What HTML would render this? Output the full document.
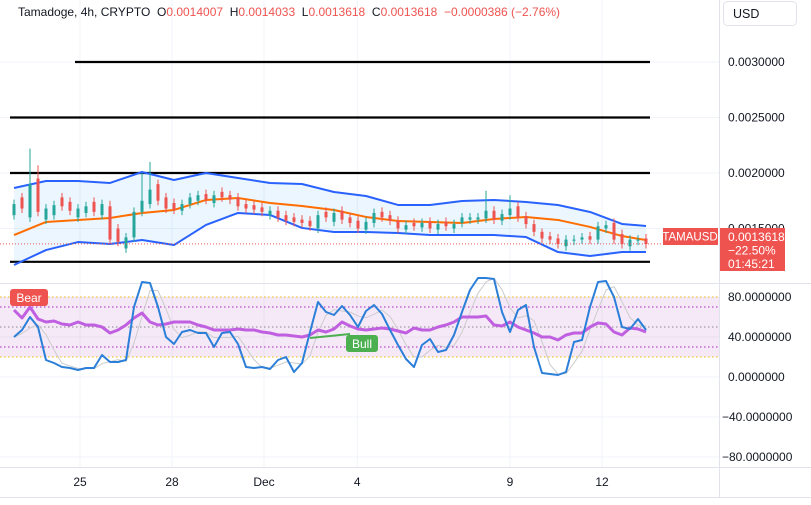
<!DOCTYPE html>
<html><head><meta charset="utf-8"><style>
body{margin:0;background:#fff;font-family:"Liberation Sans",sans-serif}
svg text{font-family:"Liberation Sans",sans-serif}
</style></head><body>
<svg id="c" width="811" height="500" xmlns="http://www.w3.org/2000/svg"></svg>
<script>
const dateLabels=["25","28","Dec","4","9","12"];
const dateIdx=[8.25,19.75,31.25,42.9,62,73.5];
const priceTicks=[0.003,0.0025,0.002,0.0015];
const levels=[0.003,0.0025,0.002,0.0012];
const oscTicks=[80,40,0,-40,-80];
const closes=[0.00172,0.00168,0.00190,0.00165,0.00168,0.00171,0.00170,0.00166,0.00168,0.00170,0.00165,0.00172,0.00140,0.00138,0.00142,0.00165,0.00175,0.00185,0.00175,0.00168,0.00167,0.00172,0.00178,0.00180,0.00176,0.00180,0.00178,0.00176,0.00170,0.00168,0.00167,0.00165,0.00166,0.00160,0.00157,0.00156,0.00155,0.00152,0.00162,0.00160,0.00164,0.00158,0.00155,0.00150,0.00156,0.00164,0.00160,0.00157,0.00150,0.00153,0.00152,0.00155,0.00150,0.00154,0.00152,0.00154,0.00160,0.00160,0.00160,0.00166,0.00158,0.00163,0.00168,0.00160,0.00154,0.00147,0.00141,0.00140,0.00136,0.00140,0.00140,0.00142,0.00140,0.00152,0.00153,0.00140,0.00136,0.00140,0.00140,0.00136];
const opens=[0.00162,0.00178,0.00160,0.00195,0.00158,0.00162,0.00178,0.00174,0.00160,0.00164,0.00174,0.00162,0.00170,0.00150,0.00132,0.00142,0.00165,0.00172,0.00190,0.00178,0.00173,0.00166,0.00172,0.00175,0.00181,0.00173,0.00183,0.00180,0.00178,0.00172,0.00171,0.00169,0.00162,0.00166,0.00162,0.00160,0.00158,0.00157,0.00150,0.00165,0.00156,0.00166,0.00160,0.00157,0.00149,0.00155,0.00165,0.00162,0.00157,0.00149,0.00155,0.00151,0.00156,0.00149,0.00156,0.00150,0.00155,0.00158,0.00158,0.00159,0.00166,0.00157,0.00162,0.00170,0.00161,0.00154,0.00147,0.00143,0.00141,0.00134,0.00139,0.00140,0.00143,0.00140,0.00150,0.00155,0.00145,0.00134,0.00139,0.00141];
const highSpikes={2:0.00222,3:0.00207,16:0.00200,17:0.00210,12:0.00175,59:0.00184,62:0.00180,66:0.00150};
const bandIdx=[0,4,8,12,16,20,24,28,32,36,40,44,48,52,56,60,64,68,72,76,79];
const upper=[0.001865,0.001928,0.001928,0.001910,0.002009,0.001937,0.002000,0.001955,0.001910,0.001901,0.001829,0.001793,0.001712,0.001712,0.001748,0.001757,0.001739,0.001712,0.001649,0.001541,0.001523];
const middle=[0.001441,0.001559,0.001577,0.001595,0.001640,0.001667,0.001757,0.001775,0.001730,0.001703,0.001667,0.001604,0.001568,0.001559,0.001550,0.001586,0.001604,0.001577,0.001514,0.001432,0.001396];
const lower=[0.001171,0.001306,0.001378,0.001360,0.001396,0.001351,0.001532,0.001640,0.001622,0.001505,0.001468,0.001468,0.001459,0.001441,0.001441,0.001441,0.001423,0.001288,0.001252,0.001288,0.001288];
const stochK=[40,47,60,50,17,14,10,9,7,9,9,22,15,15,17,70,95,94,70,40,33,45,47,44,44,30,44,45,33,10,9,10,8,17,20,5,14,45,75,65,62,71,62,50,66,72,63,47,32,18,10,32,38,25,27,42,65,87,99,99,98,65,45,67,72,30,4,3,2,5,35,37,70,95,96,80,50,48,58,47];
const rsi=[67,59,70,58,55,56,53,52,55,52,52,50,44,47,52,59,64,55,52,53,55,55,55,52,50,47,47,47,48,47,47,45,44,42,42,41,40,42,47,45,48,55,51,48,47,48,49,48,46,44,49,47,47,50,52,55,60,60,60,61,52,51,55,50,47,44,40,40,37,42,44,44,50,54,53,45,42,49,48,45];
const lastPrice=0.0013618;

const svg=document.getElementById('c');const NS='http://www.w3.org/2000/svg';
function el(t,a,p){const e=document.createElementNS(NS,t);for(const k in a)e.setAttribute(k,a[k]);(p||svg).appendChild(e);return e;}
const X=i=>14+8*i;
const Y=p=>62+(0.003-p)*111000;
const O=v=>377-v;
for(let i=0;i<dateIdx.length;i++){const g=el('line',{x1:X(dateIdx[i]),x2:X(dateIdx[i]),y1:0,y2:468,stroke:'#f0f3fa'});}
priceTicks.forEach(p=>{const g=el('line',{x1:0,x2:719,y1:Y(p),y2:Y(p),stroke:'#f0f3fa'});});
oscTicks.forEach(v=>{const g=el('line',{x1:0,x2:719,y1:O(v),y2:O(v),stroke:'#f0f3fa'});});
el('line',{x1:719.5,x2:719.5,y1:0,y2:497,stroke:'#e0e3eb'});
el('line',{x1:0,x2:811,y1:283.5,y2:283.5,stroke:'#e0e3eb'});
el('line',{x1:0,x2:811,y1:467.5,y2:467.5,stroke:'#e0e3eb'});
el('line',{x1:0,x2:811,y1:497.5,y2:497.5,stroke:'#e0e3eb'});
levels.forEach((p,k)=>{const l=el('line',{x1:k==0?75:10,x2:650,y1:Y(p),y2:Y(p),stroke:'#000','stroke-width':2.2});});
let up=bandIdx.map((b,i)=>X(b)+','+Y(upper[i])),lo=bandIdx.map((b,i)=>X(b)+','+Y(lower[i])).reverse();
const bf=el('polygon',{points:up.concat(lo).join(' '),fill:'rgba(33,150,243,0.09)'});
function poly(xs,ys,color,w,name){const p=el('polyline',{points:xs.map((x,i)=>x+','+ys[i]).join(' '),fill:'none',stroke:color,'stroke-width':w,'stroke-linejoin':'round'});return p;}
const bx=bandIdx.map(X);
poly(bx,upper.map(Y),'#2962ff',2,'bollinger-upper');
poly(bx,lower.map(Y),'#2962ff',2,'bollinger-lower');
poly(bx,middle.map(Y),'#ff6d00',2,'bollinger-basis');
closes.forEach((c,i)=>{const o=opens[i];const col=c>=o?'#26a69a':'#ef5350';
 const hi=highSpikes[i]||Math.max(o,c)+0.00004;const lw=Math.min(o,c)-0.00004;
 const g=el('g',{});
 el('line',{x1:X(i),x2:X(i),y1:Y(hi),y2:Y(lw),stroke:col,'stroke-width':1},g);
 const t=Y(Math.max(o,c)),b=Y(Math.min(o,c));el('rect',{x:X(i)-1.5,y:t,width:3,height:Math.max(1,b-t),fill:col},g);});
const lp=el('line',{x1:0,x2:719,y1:Y(lastPrice),y2:Y(lastPrice),stroke:'#ef5350','stroke-dasharray':'1 2'});
const band=el('rect',{x:0,y:O(80),width:719,height:O(20)-O(80),fill:'rgba(156,39,176,0.1)'});
[[80,'#f0c000'],[20,'#f0c000'],[70,'#b020c0'],[30,'#b020c0'],[50,'#888']].forEach(a=>{el('line',{x1:0,x2:719,y1:O(a[0]),y2:O(a[0]),stroke:a[1],'stroke-dasharray':'1.5 2.5'});});
const kx=stochK.map((v,i)=>X(i));
const d=stochK.map((v,i)=>{let s=0,n=0;for(let j=Math.max(0,i-2);j<=i;j++){s+=stochK[j];n++;}return s/n;});
poly(kx,d.map(O),'#ccc',1,'stoch-d');
poly(kx,rsi.map(O),'#c060e0',3,'rsi-line');
poly(kx,stochK.map(O),'#2c7fd8',2,'stoch-k');
const bear=el('g',{});
el('rect',{x:10,y:289,width:38,height:17,rx:3,fill:'#ef5350'},bear);const bt=el('text',{x:29,y:302,'font-size':12,fill:'#fff','text-anchor':'middle'},bear);bt.textContent='Bear';
el('line',{x1:310,y1:338,x2:350,y2:334,stroke:'#4caf50','stroke-width':2});
const bull=el('g',{});
el('rect',{x:346,y:335,width:32,height:17,rx:3,fill:'#4caf50'},bull);const bu=el('text',{x:362,y:348,'font-size':12,fill:'#fff','text-anchor':'middle'},bull);bu.textContent='Bull';
priceTicks.forEach(p=>{const t=el('text',{x:728,y:Y(p)+4,'font-size':12,fill:'#131722'});t.textContent=p.toFixed(7);});
oscTicks.forEach(v=>{const t=el('text',{x:v<0?722:728,y:O(v)+4,'font-size':12,fill:'#131722'});t.textContent=(v<0?'\u2212'+(-v):v).toString()+'.0000000';});
dateLabels.forEach((s,i)=>{const t=el('text',{x:X(dateIdx[i]),y:486,'font-size':12,fill:'#131722','text-anchor':'middle'});t.textContent=s;});
const sb=el('g',{});
el('rect',{x:663,y:228,width:55,height:17,fill:'#ef5350'},sb);const st=el('text',{x:690,y:240.5,'font-size':11.5,fill:'#fff','text-anchor':'middle'},sb);st.textContent='TAMAUSD';
const pb=el('g',{});
el('rect',{x:720,y:228,width:65,height:43,fill:'#ef5350'},pb);
['0.0013618','\u221222.50%','01:45:21'].forEach((s,i)=>{const t=el('text',{x:728,y:241+i*13.5,'font-size':12,fill:'#fff'},pb);t.textContent=s;});
const ub=el('g',{});
el('rect',{x:723.5,y:1.5,width:73,height:24,rx:4,fill:'#fff',stroke:'#e0e3eb'},ub);const ut=el('text',{x:733,y:18,'font-size':12.5,fill:'#131722'},ub);ut.textContent='USD';
const h=el('text',{x:18,y:16,'font-size':12,fill:'#131722'});
[['Tamadoge, 4h, CRYPTO  ','#131722'],['O','#131722'],['0.0014007  ','#ef5350'],['H','#131722'],['0.0014033  ','#ef5350'],['L','#131722'],['0.0013618  ','#ef5350'],['C','#131722'],['0.0013618  \u22120.0000386 (\u22122.76%)','#ef5350']].forEach(a=>{const s=el('tspan',{fill:a[1]},h);s.setAttribute('xml:space','preserve');s.textContent=a[0];});
h.setAttribute('style','white-space:pre');
</script>
</body></html>
